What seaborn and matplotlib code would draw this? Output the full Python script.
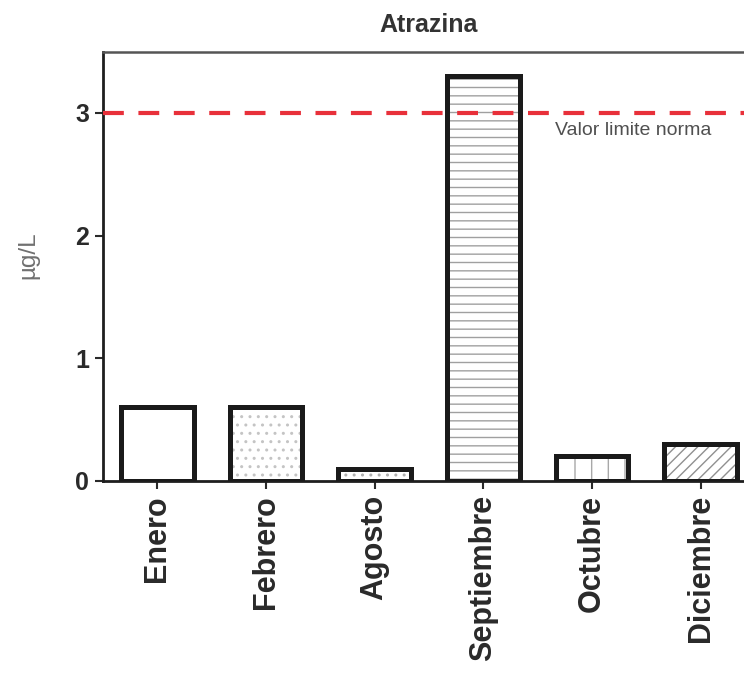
import matplotlib
matplotlib.use("Agg")
import matplotlib.pyplot as plt
import seaborn as sns
import pandas as pd

months = ["Enero", "Febrero", "Agosto", "Septiembre", "Octubre", "Diciembre"]
values = [0.6, 0.6, 0.1, 3.3, 0.2, 0.3]
limit_value = 3.0
limit_label = "Valor limite norma"
title = "Atrazina"
ylabel = "µg/L"
yticks = [0, 1, 2, 3]

hatches = ["", "..", "..", "--", "|", "///"]
hatch_colors = ["#a0a0a0", "#c4c4c4", "#b0b0b0", "#a0a0a0", "#a8a8a8", "#909090"]

sns.set_theme(style="white")
plt.rcParams["font.family"] = ["Liberation Sans", "DejaVu Sans"]
plt.rcParams["hatch.linewidth"] = 1.0

df = pd.DataFrame({"month": months, "value": values})

fig = plt.figure(figsize=(7.44, 6.76), dpi=100)
ax = fig.add_axes([103 / 744, 1 - 481 / 676, 652 / 744, (481 - 51.6) / 676])

# hatched fill layer
sns.barplot(data=df, x="month", y="value", order=months, color="white",
            edgecolor="#a0a0a0", linewidth=0, width=0.67, ax=ax, zorder=2)
for p, h, hc in zip(ax.patches, hatches, hatch_colors):
    p.set_hatch(h)
    p.set_facecolor("white")
    p.set_edgecolor(hc)
    p.set_linewidth(0)
n_first = len(ax.patches)

# outline layer
sns.barplot(data=df, x="month", y="value", order=months, fill=False,
            edgecolor="#1a1a1a", linewidth=3.6, width=0.67, ax=ax, zorder=3)
for p in ax.patches[n_first:]:
    p.set_facecolor("none")
    p.set_edgecolor("#1a1a1a")
    p.set_linewidth(3.6)

ax.axhline(limit_value, color="#e8303a", linewidth=3, dashes=(5, 3.5), zorder=4)
ax.text(3.66, limit_value - 0.14, limit_label, fontsize=14, color="#505050",
        ha="left", va="center", zorder=5)

ax.set_xlim(-0.5, 5.5)
ax.set_ylim(0, 3.5)
ax.set_yticks(yticks)
ax.set_yticklabels([str(t) for t in yticks], fontsize=18, fontweight="bold", color="#2a2a2a")
ax.set_xticks(range(len(months)))
ax.set_xticklabels(months, rotation=90, fontsize=22, fontweight="bold", color="#2a2a2a")
ax.set_xlabel("")
ax.set_ylabel(ylabel, fontsize=17.5, color="#707070")
ax.yaxis.set_label_coords(-0.098, 0.526)
ax.set_title(title, fontsize=18, fontweight="bold", color="#333333", pad=14)

ax.tick_params(axis="both", which="both", direction="out", length=6, width=1.5,
               color="#2a2a2a", bottom=True, left=True, pad=4)
for side in ["left", "bottom"]:
    ax.spines[side].set_color("#1e1e1e")
    ax.spines[side].set_linewidth(2)
ax.spines["top"].set_color("#555555")
ax.spines["top"].set_linewidth(1.8)
ax.spines["right"].set_visible(False)
ax.grid(False)

fig.savefig("out.png", dpi=100)
